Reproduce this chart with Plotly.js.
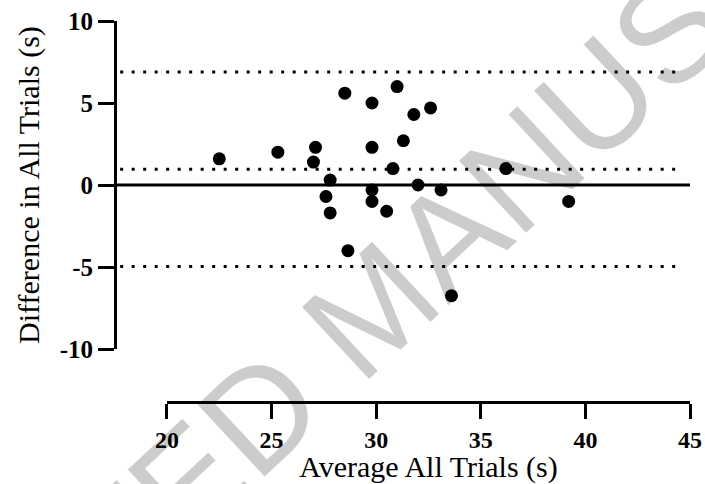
<!DOCTYPE html>
<html>
<head>
<meta charset="utf-8">
<script src="https://cdn.plot.ly/plotly-3.0.1.min.js"></script>
<style>html,body{margin:0;padding:0;background:#fff;}#chart{width:705px;height:484px;}</style>
</head>
<body>
<div id="chart"></div>
<script>
// Bland-Altman data: average of trials (x) and difference (y)
const averageAll = [22.5, 25.3, 27.1, 27.0, 28.5, 29.8, 31.0, 31.8, 32.6, 29.8, 31.3, 30.8,
                    27.8, 32.0, 33.1, 29.8, 27.6, 29.8, 27.8, 30.5, 28.65, 33.6, 36.2, 39.2];
const differenceAll = [1.6, 2.0, 2.3, 1.4, 5.6, 5.0, 6.0, 4.3, 4.7, 2.3, 2.7, 1.0,
                       0.3, 0.0, -0.3, -0.3, -0.7, -1.0, -1.7, -1.6, -4.0, -6.75, 1.0, -1.0];
const bias = 0.96;
const upperLoA = 6.89;
const lowerLoA = -4.97;
const xTickVals = [20, 25, 30, 35, 40, 45];
const yTickVals = [-10, -5, 0, 5, 10];
const yTickText = ['-10', '-5', '0', '5', '10'];
const xTitle = 'Average All Trials (s)';
const yTitle = 'Difference in All Trials (s)';
const watermark = 'ACCEPTED MANUSCRIPT';

const serif = '"Liberation Serif", serif';

const traces = [
  {
    x: averageAll, y: differenceAll, type: 'scatter', mode: 'markers',
    marker: {color: '#000', size: 13}, hoverinfo: 'x+y', showlegend: false
  }
];

const dotted = {color: '#000', width: 3, dash: '3px,8.5px'};
const shapes = [
  {type: 'line', xref: 'paper', yref: 'y', x0: 0.009, x1: 0.983, y0: upperLoA, y1: upperLoA, line: dotted},
  {type: 'line', xref: 'paper', yref: 'y', x0: 0.009, x1: 0.983, y0: bias, y1: bias, line: dotted},
  {type: 'line', xref: 'paper', yref: 'y', x0: 0.009, x1: 0.983, y0: lowerLoA, y1: lowerLoA, line: dotted},
  {type: 'line', xref: 'paper', yref: 'y', x0: 0, x1: 1, y0: 0, y1: 0, line: {color: '#000', width: 3}}
];

const layout = {
  width: 705, height: 484,
  margin: {l: 115, r: 15, t: 21, b: 82, pad: 0},
  paper_bgcolor: '#fff', plot_bgcolor: '#fff',
  showlegend: false,
  font: {family: serif, color: '#000'},
  xaxis: {
    anchor: 'free', position: 0,
    domain: [0.0904, 1], range: [20, 45],
    tickvals: xTickVals, ticks: 'outside', ticklen: 15, tickwidth: 3, tickcolor: '#000',
    showline: true, linewidth: 3, linecolor: '#000', showgrid: false, zeroline: false,
    tickfont: {family: serif, size: 24, color: '#000', weight: 'bold'},
    title: {text: xTitle, font: {family: serif, size: 30, color: '#000'}, standoff: 0}
  },
  yaxis: {
    domain: [0.139, 1], range: [-10, 10], anchor: 'free', position: 0,
    tickvals: yTickVals, ticktext: yTickText,
    ticks: 'outside', ticklen: 16, tickwidth: 3, tickcolor: '#000',
    showline: true, linewidth: 3, linecolor: '#000', showgrid: false, zeroline: false,
    tickfont: {family: serif, size: 25, color: '#000', weight: 'bold'},
    title: {text: yTitle, font: {family: serif, size: 30, color: '#000'}, standoff: 10}
  },
  shapes: shapes,
  annotations: [{
    text: watermark, xref: 'x', yref: 'y', x: 29.85, y: -7.44,
    showarrow: false, textangle: -43,
    font: {family: '"Liberation Sans", sans-serif', size: 143, color: 'rgba(0,0,0,0.2)'}
  }]
};

Plotly.newPlot('chart', traces, layout, {staticPlot: true, displayModeBar: false});
</script>
</body>
</html>
